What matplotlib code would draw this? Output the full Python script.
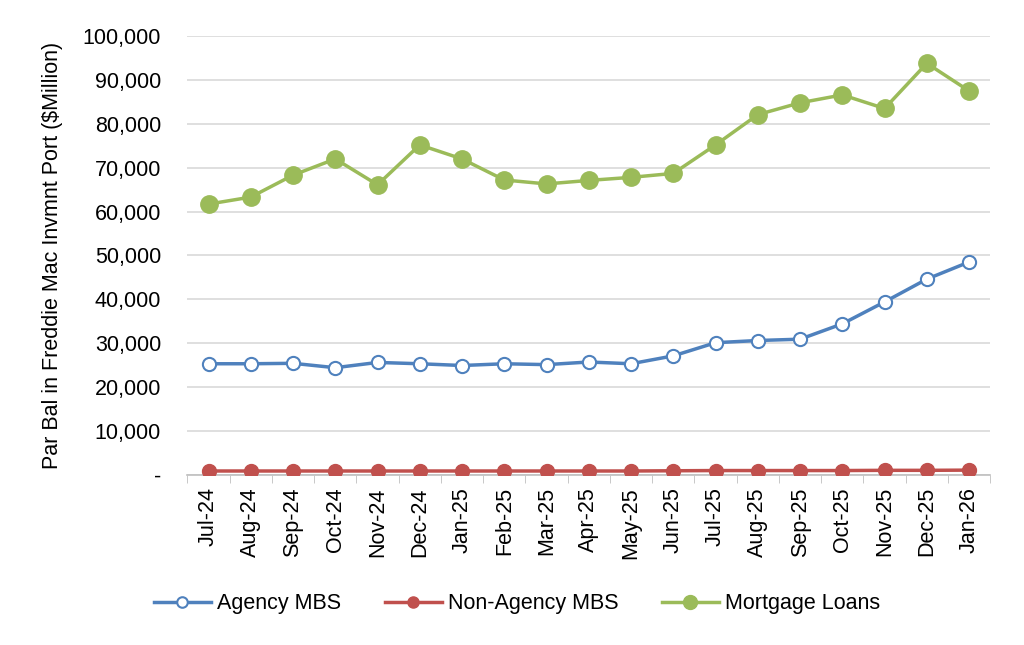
import matplotlib
matplotlib.use("Agg")
import matplotlib.pyplot as plt
from matplotlib.ticker import FuncFormatter, MultipleLocator, FixedLocator

plt.rcParams['font.family'] = ['Liberation Sans', 'DejaVu Sans']

months = ["Jul-24", "Aug-24", "Sep-24", "Oct-24", "Nov-24", "Dec-24", "Jan-25", "Feb-25",
          "Mar-25", "Apr-25", "May-25", "Jun-25", "Jul-25", "Aug-25", "Sep-25", "Oct-25",
          "Nov-25", "Dec-25", "Jan-26"]
agency_mbs = [25300, 25300, 25400, 24400, 25600, 25300, 24900, 25300, 25100, 25700, 25300,
              27100, 30100, 30600, 30900, 34400, 39400, 44600, 48500]
non_agency_mbs = [850, 850, 850, 850, 850, 850, 850, 850, 850, 850, 850,
                  900, 950, 950, 950, 950, 1000, 1000, 1050]
mortgage_loans = [61700, 63300, 68300, 72000, 66100, 75200, 72000, 67200, 66300, 67100, 67800,
                  68700, 75200, 82100, 84800, 86600, 83500, 93800, 87500]

FS = 15.5

fig = plt.figure(figsize=(10.24, 6.45), dpi=100)
ax = fig.add_axes([0.183, 0.264, 0.784, 0.680])

x = list(range(len(months)))
blue, red, green = "#4F81BD", "#C0504D", "#9BBB59"

ax.plot(x, agency_mbs, color=blue, lw=2.5, marker='o', ms=9.5, mfc='white', mec=blue,
        mew=1.5, label="Agency MBS", zorder=3)
ax.plot(x, non_agency_mbs, color=red, lw=2.5, marker='o', ms=10, mfc=red, mec=red,
        label="Non-Agency MBS", zorder=3)
ax.plot(x, mortgage_loans, color=green, lw=2.5, marker='o', ms=12.5, mfc=green, mec=green,
        label="Mortgage Loans", zorder=3)

ax.set_xlim(-0.5, len(months) - 0.5)
ax.set_ylim(0, 100000)
ax.yaxis.set_major_locator(MultipleLocator(10000))
ax.yaxis.set_major_formatter(FuncFormatter(lambda v, p: "-" if v == 0 else f"{int(v):,}"))
ax.grid(axis='y', color='#D9D9D9', lw=1.2)
ax.set_axisbelow(True)

ax.set_xticks(x)
ax.set_xticklabels(months, rotation=90, fontsize=FS)
ax.xaxis.set_minor_locator(FixedLocator([i - 0.5 for i in range(len(months) + 1)]))
ax.tick_params(axis='x', which='major', length=0, pad=9)
ax.tick_params(axis='x', which='minor', length=6, color='#BFBFBF', direction='out')
ax.tick_params(axis='y', length=0, labelsize=FS, pad=19)

for s in ['top', 'right', 'left']:
    ax.spines[s].set_visible(False)
ax.spines['bottom'].set_color('#BFBFBF')
ax.spines['bottom'].set_linewidth(1.2)

ax.set_ylabel("Par Bal in Freddie Mac Invmnt Port ($Million)", fontsize=FS, labelpad=14)

fig.legend(loc='center', bbox_to_anchor=(0.505, 0.064), ncol=3, frameon=False,
           fontsize=FS, handlelength=2.65, columnspacing=2.0, handletextpad=0.3,
           markerscale=0.8)

fig.savefig("out.png", dpi=100)
